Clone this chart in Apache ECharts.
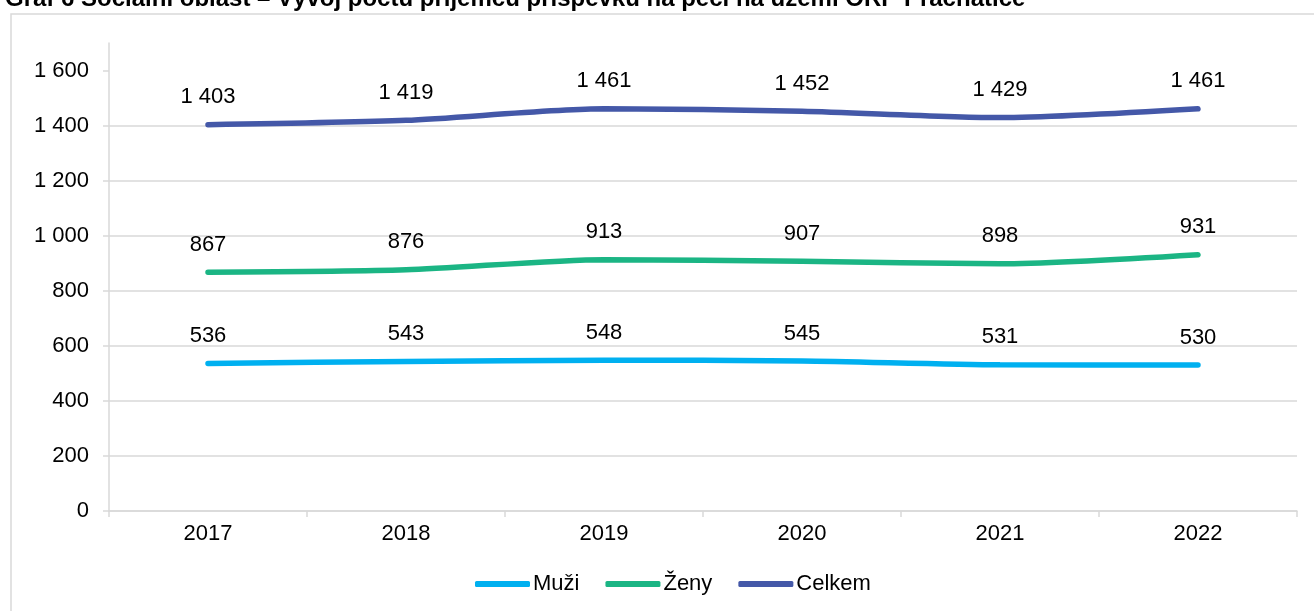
<!DOCTYPE html>
<html>
<head>
<meta charset="utf-8">
<script src="https://cdn.jsdelivr.net/npm/echarts@6/dist/echarts.min.js"></script>
<style>
  html, body { margin: 0; padding: 0; background: #fff; }
  #chart { width: 1314px; height: 611px; }
</style>
</head>
<body>
<div id="chart"></div>
<script>
  // data
  var years = ['2017', '2018', '2019', '2020', '2021', '2022'];
  var muzi = [536, 543, 548, 545, 531, 530];
  var zeny = [867, 876, 913, 907, 898, 931];
  var celkem = [1403, 1419, 1461, 1452, 1429, 1461];
  var yTicks = [0, 200, 400, 600, 800, 1000, 1200, 1400, 1600];

  var FONT = '"Liberation Sans", Arial, sans-serif';
  var GRID_COLOR = '#d9d9d9';

  // 1403 -> "1 403"
  function fmt(v) {
    return String(v).replace(/\B(?=(\d{3})+(?!\d))/g, ' ');
  }

  function makeSeries(name, data, color) {
    return {
      name: name,
      type: 'line',
      data: data,
      smooth: 0.25,
      symbol: 'circle',
      symbolSize: 1,
      showSymbol: true,
      itemStyle: {color: color},
      lineStyle: {color: color, width: 5.5, cap: 'round'},
      label: {
        show: true,
        position: 'top',
        distance: 16,
        color: '#000',
        fontFamily: FONT,
        fontSize: 22,
        formatter: function (p) { return fmt(p.value); }
      },
      emphasis: {disabled: true}
    };
  }

  var chart = echarts.init(document.getElementById('chart'));
  chart.setOption({
    animation: false,
    title: {
      text: 'Graf 6 Sociální oblast – Vývoj počtu příjemců příspěvku na péči na území ORP Prachatice',
      left: 0,
      top: -18,
      textStyle: {fontFamily: FONT, fontSize: 24, fontWeight: 'bold', color: '#000'}
    },
    graphic: [{
      type: 'rect',
      shape: {x: 11, y: 14, width: 1400, height: 700},
      style: {fill: 'none', stroke: GRID_COLOR, lineWidth: 1.5},
      silent: true
    }],
    legend: {
      left: 470,
      top: 568,
      itemWidth: 55,
      itemHeight: 6,
      itemGap: 26,
      icon: 'roundRect',
      textStyle: {fontFamily: FONT, fontSize: 22, color: '#000', padding: [5, 0, 0, -2]},
      data: ['Muži', 'Ženy', 'Celkem']
    },
    grid: {left: 109, right: 17, top: 43, bottom: 100, containLabel: false},
    xAxis: {
      type: 'category',
      data: years,
      boundaryGap: true,
      axisLine: {lineStyle: {color: GRID_COLOR, width: 1.5}},
      axisTick: {show: true, length: 6, lineStyle: {color: GRID_COLOR, width: 1.5}},
      axisLabel: {color: '#000', fontFamily: FONT, fontSize: 22, margin: 12}
    },
    yAxis: {
      type: 'value',
      min: 0,
      max: 1700,
      axisLine: {show: true, lineStyle: {color: GRID_COLOR, width: 1.5}},
      axisTick: {show: true, length: 6, customValues: yTicks, lineStyle: {color: GRID_COLOR, width: 1.5}},
      axisLabel: {
        customValues: yTicks,
        color: '#000',
        fontFamily: FONT,
        fontSize: 22,
        margin: 20,
        formatter: function (v) { return fmt(v); }
      },
      splitLine: {show: true, showMaxLine: false, lineStyle: {color: GRID_COLOR, width: 1.5}}
    },
    series: [
      makeSeries('Muži', muzi, '#00b0f0'),
      makeSeries('Ženy', zeny, '#1bb584'),
      makeSeries('Celkem', celkem, '#4458a8')
    ]
  });
</script>
</body>
</html>
